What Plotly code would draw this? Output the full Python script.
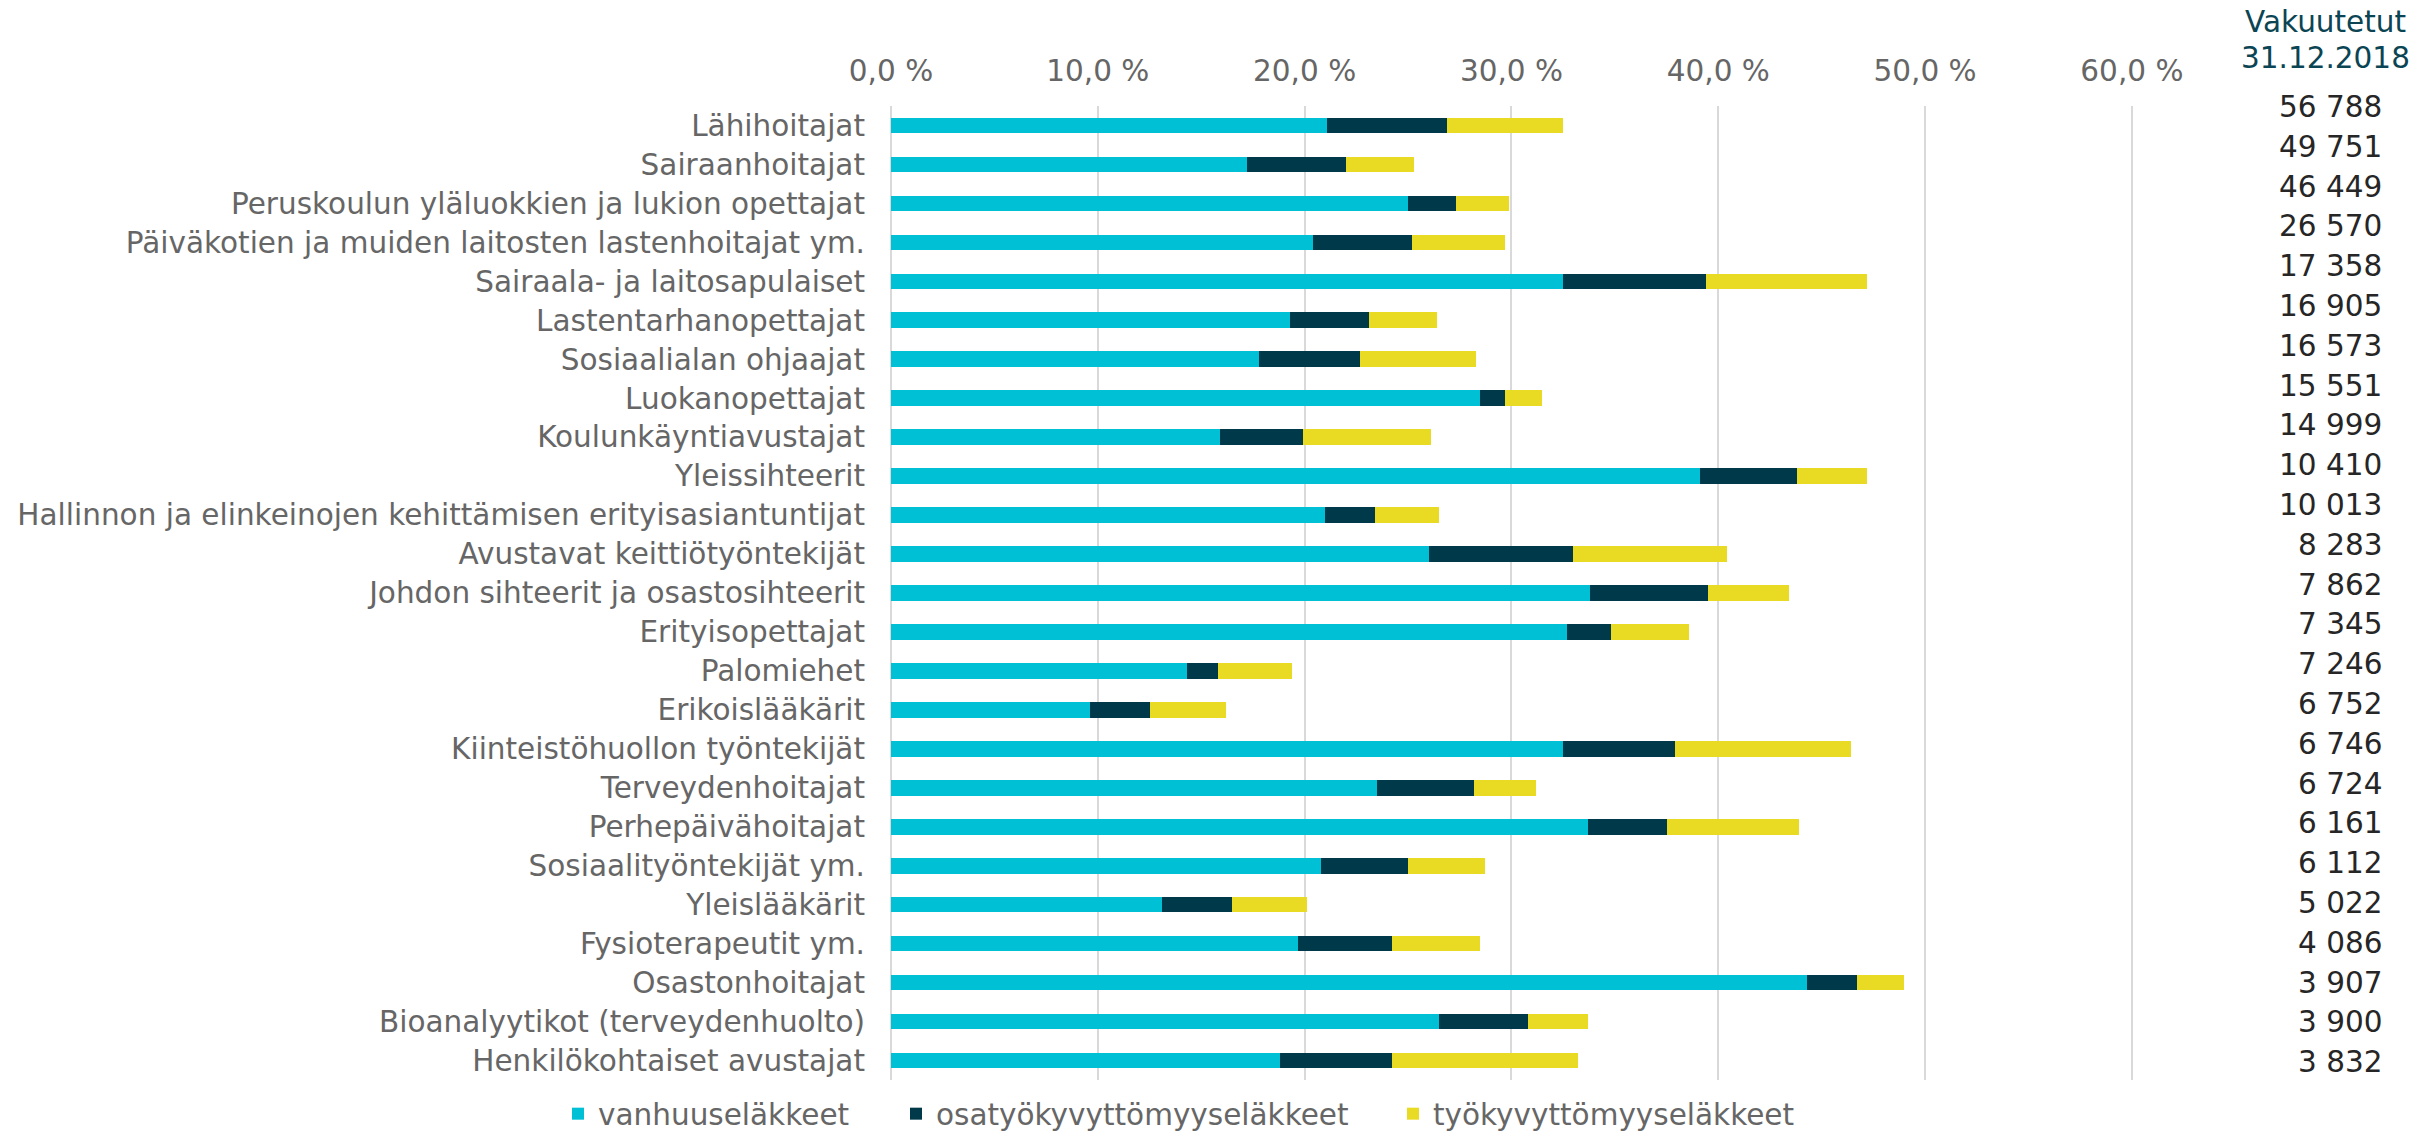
import plotly.graph_objects as go

categories = [
    "Lähihoitajat", "Sairaanhoitajat", "Peruskoulun yläluokkien ja lukion opettajat",
    "Päiväkotien ja muiden laitosten lastenhoitajat ym.", "Sairaala- ja laitosapulaiset",
    "Lastentarhanopettajat", "Sosiaalialan ohjaajat", "Luokanopettajat",
    "Koulunkäyntiavustajat", "Yleissihteerit",
    "Hallinnon ja elinkeinojen kehittämisen erityisasiantuntijat",
    "Avustavat keittiötyöntekijät", "Johdon sihteerit ja osastosihteerit",
    "Erityisopettajat", "Palomiehet", "Erikoislääkärit", "Kiinteistöhuollon työntekijät",
    "Terveydenhoitajat", "Perhepäivähoitajat", "Sosiaalityöntekijät ym.", "Yleislääkärit",
    "Fysioterapeutit ym.", "Osastonhoitajat", "Bioanalyytikot (terveydenhuolto)",
    "Henkilökohtaiset avustajat",
]

vanhuus = [21.1, 17.2, 25.0, 20.4, 32.5, 19.3, 17.8, 28.5, 15.9, 39.1, 21.0, 26.0, 33.8,
           32.7, 14.3, 9.6, 32.5, 23.5, 33.7, 20.8, 13.1, 19.7, 44.3, 26.5, 18.8]
osatyokyvyttomyys = [5.8, 4.8, 2.3, 4.8, 6.9, 3.8, 4.9, 1.2, 4.0, 4.7, 2.4, 7.0, 5.7,
                     2.1, 1.5, 2.9, 5.4, 4.7, 3.8, 4.2, 3.4, 4.5, 2.4, 4.3, 5.4]
tyokyvyttomyys = [5.6, 3.3, 2.6, 4.5, 7.8, 3.3, 5.6, 1.8, 6.2, 3.4, 3.1, 7.4, 3.9,
                  3.8, 3.6, 3.7, 8.5, 3.0, 6.4, 3.7, 3.6, 4.3, 2.3, 2.9, 9.0]

vakuutetut = ["56 788", "49 751", "46 449", "26 570", "17 358", "16 905", "16 573", "15 551",
              "14 999", "10 410", "10 013", "8 283", "7 862", "7 345", "7 246", "6 752",
              "6 746", "6 724", "6 161", "6 112", "5 022", "4 086", "3 907", "3 900", "3 832"]
header_lines = ["Vakuutetut", "31.12.2018"]

series_names = ["vanhuuseläkkeet", "osatyökyvyttömyyseläkkeet", "työkyvyttömyyseläkkeet"]
series_colors = ["#00C0D5", "#003A4A", "#E9DA23"]
tick_vals = [0, 10, 20, 30, 40, 50, 60]
tick_text = ["0,0 %", "10,0 %", "20,0 %", "30,0 %", "40,0 %", "50,0 %", "60,0 %"]

FONT = "DejaVu Sans"
FS = 29.5
W, H = 2422, 1131
L, R, T, B = 891, 2135, 105.5, 1080.5

fig = go.Figure()
legend_ids = ["legend", "legend2", "legend3"]
for name, vals, col, lg in zip(series_names, [vanhuus, osatyokyvyttomyys, tyokyvyttomyys],
                               series_colors, legend_ids):
    fig.add_trace(go.Bar(y=categories, x=vals, name=name, orientation="h", showlegend=True,
                         marker=dict(color=col, line=dict(width=0)), legend=lg))

plot_w = R - L
plot_h = B - T

def px_x(x):
    return (x - L) / plot_w

def px_y(y):
    return 1 - (y - T) / plot_h

# legend marker centres (px)
leg_centres = [583, 921, 1418]
legend_common = dict(orientation="h", xanchor="left", yanchor="middle",
                     xref="container", yref="container", y=1 - 1114 / H,
                     font=dict(family=FONT, size=FS, color="#666666"),
                     bgcolor="rgba(0,0,0,0)", visible=True)

annotations = []
first_y, last_y = 106.6, 1062.7
step = (last_y - first_y) / (len(vakuutetut) - 1)
for i, v in enumerate(vakuutetut):
    annotations.append(dict(text=v, xref="paper", yref="paper", x=px_x(2384),
                            y=px_y(first_y + i * step), xanchor="right", yanchor="middle",
                            showarrow=False, font=dict(family=FONT, size=FS, color="#262626")))
for line, yy in zip(header_lines, [21, 57]):
    annotations.append(dict(text=line, xref="paper", yref="paper",
                            x=px_x(2325), y=px_y(yy), xanchor="center", yanchor="middle",
                            showarrow=False,
                            font=dict(family=FONT, size=FS, color="#0B4553")))

fig.update_layout(
    width=W, height=H,
    showlegend=True,
    barmode="stack", bargap=0.6,
    plot_bgcolor="white", paper_bgcolor="white",
    margin=dict(l=L, r=W - R, t=T, b=H - B, pad=0, autoexpand=False),
    font=dict(family=FONT, size=FS, color="#666666"),
    xaxis=dict(side="top", range=[0, 60.15], tickvals=tick_vals, ticktext=tick_text,
               showgrid=True, gridcolor="#D9D9D9", gridwidth=2, zeroline=True,
               zerolinecolor="#D9D9D9", zerolinewidth=2, showline=False, ticks="",
               ticklabelstandoff=18, tickfont=dict(family=FONT, size=FS, color="#666666"),
               fixedrange=True, automargin=False),
    yaxis=dict(autorange="reversed", showgrid=False, zeroline=False, showline=False,
               ticks="", ticklabelstandoff=25, automargin=False, fixedrange=True,
               tickfont=dict(family=FONT, size=FS, color="#666666")),
    legend=dict(x=(leg_centres[0] - 25) / W, **legend_common),
    legend2=dict(x=(leg_centres[1] - 25) / W, **legend_common),
    legend3=dict(x=(leg_centres[2] - 25) / W, **legend_common),
    annotations=annotations,
)

fig.write_html("out.html", config={"displayModeBar": False},
               post_script="document.body.style.margin='0';")
